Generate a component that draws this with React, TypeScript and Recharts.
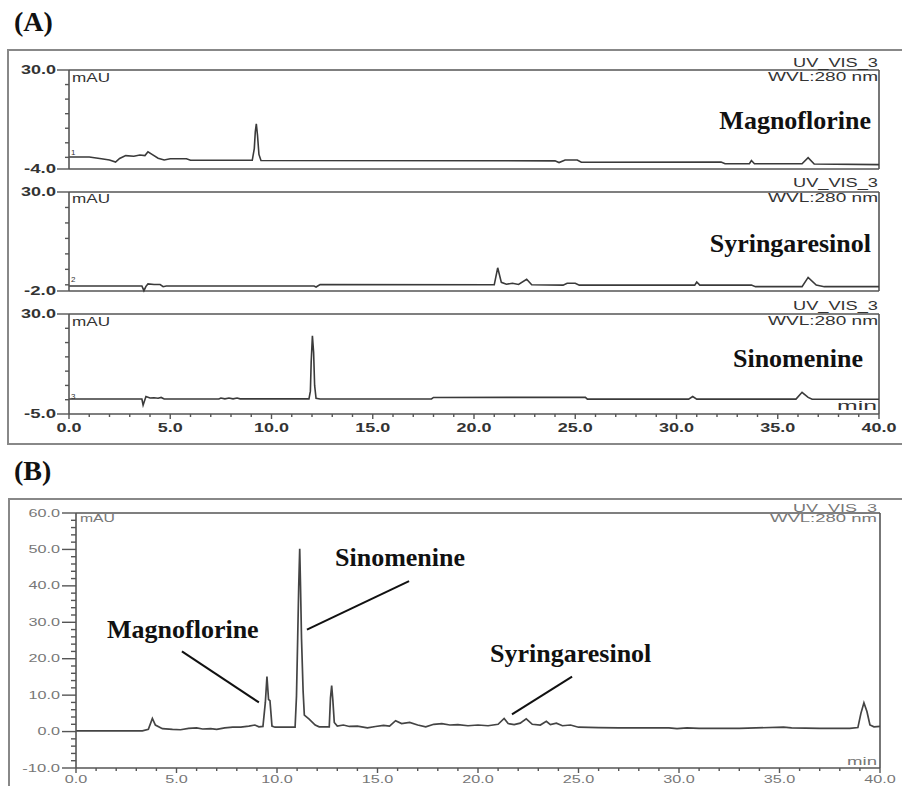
import { LineChart, Line, XAxis, YAxis, ReferenceLine } from 'recharts';

// retention time (min), absorbance (mAU)
const magnoflorineStd: [number, number][] = [
  [0, 0.1], [1.0, 0.1], [1.6, -0.5], [2.0, -0.9], [2.3, -1.6], [2.5, -0.4], [2.8, 0.6],
  [3.2, 0.4], [3.5, 0.8], [3.75, 0.6], [3.9, 1.9], [4.1, 1.0], [4.4, -0.3], [4.7, -0.9],
  [5.0, -0.5], [5.8, -0.5], [6.0, -1.0], [9.05, -1.0], [9.15, 3.0], [9.2, 8.8], [9.25, 11.5],
  [9.31, 7.5], [9.38, 1.0], [9.48, -1.1], [24.0, -1.2], [24.2, -1.8], [24.5, -0.9], [25.1, -0.9],
  [25.3, -1.7], [32.2, -1.6], [32.4, -2.2], [33.6, -2.2], [33.7, -1.1], [33.85, -2.2],
  [36.2, -2.2], [36.5, -0.1], [36.8, -2.3], [40.0, -2.5],
];

const syringaresinolStd: [number, number][] = [
  [0, -0.4], [3.6, -0.4], [3.7, -1.9], [3.8, -0.5], [3.9, 0.3], [4.2, 0.1], [4.5, 0.1],
  [4.65, -0.6], [4.8, -0.4], [12.1, -0.4], [12.2, -0.7], [12.4, 0.1], [21.0, 0.0],
  [21.17, 5.5], [21.35, 0.8], [21.6, 0.2], [21.9, 0.5], [22.2, 0.1], [22.6, 1.8], [22.85, 0.0],
  [24.4, -0.1], [24.6, 0.5], [25.0, 0.5], [25.2, -0.1], [30.9, -0.1], [31.0, 0.9], [31.15, -0.1],
  [33.7, -0.1], [33.9, -0.6], [36.2, -0.6], [36.5, 2.4], [36.9, -0.1], [37.3, -0.6], [40.0, -0.6],
];

const sinomenineStd: [number, number][] = [
  [0, 0.25], [3.6, 0.25], [3.66, -1.9], [3.8, 1.1], [4.0, 0.6], [4.2, 0.7], [4.4, 0.5],
  [4.55, 0.8], [4.7, 0.25], [7.4, 0.25], [7.5, 0.6], [7.7, 0.3], [7.9, 0.6], [8.1, 0.3],
  [8.3, 0.6], [8.45, 0.3], [11.85, 0.3], [11.92, 3.0], [11.96, 13.3], [12.02, 22.4],
  [12.08, 16.5], [12.13, 5.0], [12.2, 0.5], [12.4, 0.25], [17.9, 0.25], [18.0, 0.8],
  [25.5, 0.85], [25.6, 0.2], [30.6, 0.2], [30.8, 1.1], [31.0, 0.2], [35.9, 0.2], [36.2, 2.6],
  [36.5, 0.8], [36.7, 0.15], [40.0, 0.15],
];

const extractSample: [number, number][] = [
  [0, 0.2], [3.3, 0.2], [3.6, 0.6], [3.8, 3.6], [3.95, 1.8], [4.3, 0.8], [4.8, 0.6], [5.2, 0.5],
  [5.6, 0.9], [6.0, 1.0], [6.3, 0.7], [6.7, 0.8], [7.0, 0.6], [7.4, 1.0], [7.8, 1.2], [8.2, 1.2],
  [8.6, 1.5], [8.9, 1.8], [9.1, 1.3], [9.3, 1.4], [9.42, 8.0], [9.5, 15.1], [9.58, 8.8],
  [9.65, 8.5], [9.75, 1.5], [9.9, 1.2], [10.9, 1.2], [10.97, 9.8], [11.03, 25.8], [11.08, 39.7],
  [11.13, 50.2], [11.17, 40.0], [11.22, 25.5], [11.3, 11.0], [11.36, 4.5], [11.6, 3.4],
  [11.9, 1.8], [12.1, 1.3], [12.6, 1.3], [12.66, 9.2], [12.72, 12.6], [12.78, 8.5], [12.85, 2.5],
  [13.0, 1.5], [13.3, 1.8], [13.6, 1.4], [14.0, 1.5], [14.5, 1.0], [14.9, 1.4], [15.3, 1.7],
  [15.6, 1.5], [15.9, 3.0], [16.2, 2.2], [16.6, 2.5], [17.0, 1.8], [17.4, 1.3], [17.8, 2.0],
  [18.2, 2.2], [18.6, 1.8], [19.0, 1.9], [19.5, 1.6], [20.0, 1.8], [20.5, 1.6], [21.0, 2.0],
  [21.3, 3.6], [21.5, 2.2], [21.8, 1.9], [22.1, 2.3], [22.4, 3.5], [22.7, 2.0], [23.1, 1.8],
  [23.4, 2.8], [23.6, 1.9], [23.9, 2.3], [24.2, 1.6], [24.6, 1.8], [25.0, 1.2], [26.0, 1.1],
  [27.0, 1.0], [28.0, 1.0], [29.5, 1.0], [29.9, 0.8], [30.4, 1.0], [31.0, 0.9], [33.0, 0.9],
  [35.2, 1.2], [35.6, 1.0], [37.0, 0.9], [38.5, 0.9], [38.9, 1.1], [39.05, 5.0], [39.2, 7.9],
  [39.35, 5.5], [39.5, 1.8], [39.7, 1.3], [40.0, 1.4],
];

const minuteTicks = [
  0, 1, 2, 3, 4, 5, 6, 7, 8, 9, 10, 11, 12, 13, 14, 15, 16, 17, 18, 19, 20,
  21, 22, 23, 24, 25, 26, 27, 28, 29, 30, 31, 32, 33, 34, 35, 36, 37, 38, 39, 40,
];
const minuteLabels = [0, 5, 10, 15, 20, 25, 30, 35, 40];

const magnoYTicks = [-4, 0, 5, 10, 15, 20, 25, 30];
const syringYTicks = [-2, 0, 5, 10, 15, 20, 25, 30];
const sinoYTicks = [-5, 0, 5, 10, 15, 20, 25, 30];
const extractYTicks = [
  -10, -8, -6, -4, -2, 0, 2, 4, 6, 8, 10, 12, 14, 16, 18, 20, 22, 24, 26, 28, 30,
  32, 34, 36, 38, 40, 42, 44, 46, 48, 50, 52, 54, 56, 58, 60,
];
const extractYLabels = [-10, 0, 10, 20, 30, 40, 50, 60];

// leader lines in panel B (time, mAU)
const leaderLines = [
  [{ x: 5.27, y: 22.0 }, { x: 9.1, y: 8.0 }],
  [{ x: 16.57, y: 41.3 }, { x: 11.49, y: 28.0 }],
  [{ x: 24.68, y: 15.1 }, { x: 21.69, y: 4.7 }],
];

const toRows = (pts: [number, number][]) => pts.map(([t, v]) => ({ t, v }));

const SANS = "'Liberation Sans', Arial, sans-serif";
const SERIF = "'Liberation Serif', 'Times New Roman', serif";

const labelWidth = (s: string, digit: number) => {
  let w = 0;
  for (const c of s) w += c === '.' ? digit * 0.5 : c === '-' ? digit * 0.7 : digit;
  return w;
};

type TickStyle = {
  labelled: number[];
  major: number;
  minor: number;
  gap: number;
  size: number;
  weight: string | number;
  fill: string;
  line: string;
  digit: number;
};

function yTick(st: TickStyle) {
  return (props: any) => {
    const { x, y, payload } = props;
    const val = payload.value as number;
    const big = st.labelled.includes(val);
    const txt = val.toFixed(1);
    return (
      <g>
        <line x1={x - (big ? st.major : st.minor)} y1={y} x2={x} y2={y} stroke={st.line} strokeWidth={1.4} />
        {big && (
          <text
            x={x - st.major - st.gap}
            y={y}
            dy="0.36em"
            textAnchor="end"
            fontFamily={SANS}
            fontSize={st.size}
            fontWeight={st.weight}
            fill={st.fill}
            textLength={labelWidth(txt, st.digit)}
            lengthAdjust="spacingAndGlyphs"
          >
            {txt}
          </text>
        )}
      </g>
    );
  };
}

function xTick(st: TickStyle) {
  return (props: any) => {
    const { x, y, payload } = props;
    const val = payload.value as number;
    const big = st.labelled.includes(val);
    const txt = val.toFixed(1);
    return (
      <g>
        <line x1={x} y1={y} x2={x} y2={y + (big ? st.major : st.minor)} stroke={st.line} strokeWidth={1.4} />
        {big && (
          <text
            x={x}
            y={y + st.gap}
            dy="0.36em"
            textAnchor="middle"
            fontFamily={SANS}
            fontSize={st.size}
            fontWeight={st.weight}
            fill={st.fill}
            textLength={labelWidth(txt, st.digit)}
            lengthAdjust="spacingAndGlyphs"
          >
            {txt}
          </text>
        )}
      </g>
    );
  };
}

const dark = '#3a3a3a';
const frame = '#555';

function StdPanel({
  pts,
  top,
  height,
  yMin,
  yTicks,
  withX,
}: {
  pts: [number, number][];
  top: number;
  height: number;
  yMin: number;
  yTicks: number[];
  withX: boolean;
}) {
  return (
    <div style={{ position: 'absolute', left: 0, top }}>
      <LineChart
        width={902}
        height={height}
        data={toRows(pts)}
        margin={{ top: 15, right: 23, bottom: withX ? 4 : 6, left: 9 }}
      >
        <XAxis
          dataKey="t"
          type="number"
          domain={[0, 40]}
          ticks={minuteTicks}
          interval={0}
          hide={!withX}
          height={22}
          tickSize={0}
          tickMargin={0}
          tickLine={false}
          axisLine={{ stroke: frame, strokeWidth: 1.6 }}
          tick={xTick({
            labelled: minuteLabels,
            major: 5,
            minor: 3,
            gap: 14,
            size: 12,
            weight: 'bold',
            fill: '#333',
            line: frame,
            digit: 10,
          })}
        />
        <YAxis
          type="number"
          domain={[yMin, 30]}
          ticks={yTicks}
          interval={0}
          width={60}
          tickSize={0}
          tickMargin={0}
          tickLine={false}
          axisLine={{ stroke: frame, strokeWidth: 1.6 }}
          tick={yTick({
            labelled: [yMin, 30],
            major: 12,
            minor: 4,
            gap: 1,
            size: 12,
            weight: 'bold',
            fill: '#333',
            line: frame,
            digit: 10,
          })}
        />
        <ReferenceLine y={30} stroke={frame} strokeWidth={1.6} />
        {!withX && <ReferenceLine y={yMin} stroke={frame} strokeWidth={1.6} />}
        <ReferenceLine x={40} stroke={frame} strokeWidth={1.6} />
        <Line
          dataKey="v"
          type="linear"
          stroke={dark}
          strokeWidth={1.6}
          dot={false}
          isAnimationActive={false}
        />
      </LineChart>
    </div>
  );
}

const light = '#777';

function SamplePanel() {
  return (
    <div style={{ position: 'absolute', left: 0, top: 490 }}>
      <LineChart
        width={902}
        height={296}
        data={toRows(extractSample)}
        margin={{ top: 23, right: 22, bottom: 0, left: 10 }}
      >
        <XAxis
          dataKey="t"
          type="number"
          domain={[0, 40]}
          ticks={minuteTicks}
          interval={0}
          height={18}
          tickSize={0}
          tickMargin={0}
          tickLine={false}
          axisLine={{ stroke: frame, strokeWidth: 1.6 }}
          tick={xTick({
            labelled: minuteLabels,
            major: 5,
            minor: 3,
            gap: 11,
            size: 10,
            weight: 'normal',
            fill: light,
            line: frame,
            digit: 9,
          })}
        />
        <YAxis
          type="number"
          domain={[-10, 60]}
          ticks={extractYTicks}
          interval={0}
          width={66}
          tickSize={0}
          tickMargin={0}
          tickLine={false}
          axisLine={{ stroke: frame, strokeWidth: 1.6 }}
          tick={yTick({
            labelled: extractYLabels,
            major: 14,
            minor: 5,
            gap: 2,
            size: 10,
            weight: 'normal',
            fill: light,
            line: frame,
            digit: 9,
          })}
        />
        <ReferenceLine y={60} stroke={frame} strokeWidth={1.6} />
        <ReferenceLine x={40} stroke={frame} strokeWidth={1.6} />
        {leaderLines.map((seg, i) => (
          <ReferenceLine key={i} segment={seg} stroke="#111" strokeWidth={2} />
        ))}
        <Line
          dataKey="v"
          type="linear"
          stroke="#444"
          strokeWidth={1.7}
          dot={false}
          isAnimationActive={false}
        />
      </LineChart>
    </div>
  );
}

function HeaderA({ uvY, wvlY, mauY }: { uvY: number; wvlY: number; mauY: number }) {
  return (
    <g fontFamily={SANS} fontSize={12} fill="#333">
      <text x={878} y={uvY} textAnchor="end" textLength={85} lengthAdjust="spacingAndGlyphs">UV_VIS_3</text>
      <text x={878} y={wvlY} textAnchor="end" textLength={110} lengthAdjust="spacingAndGlyphs">WVL:280 nm</text>
      <text x={72} y={mauY} textLength={38} lengthAdjust="spacingAndGlyphs">mAU</text>
    </g>
  );
}

export default function App() {
  return (
    <div
      style={{
        position: 'relative',
        width: 902,
        height: 786,
        overflow: 'hidden',
        background: '#fff',
      }}
    >
      <style>{'body{margin:0}'}</style>
      <div
        style={{
          position: 'absolute',
          left: 7,
          top: 49,
          width: 910,
          height: 392,
          border: '2px solid #888',
        }}
      />
      <div
        style={{
          position: 'absolute',
          left: 8,
          top: 498,
          width: 910,
          height: 320,
          border: '2px solid #888',
        }}
      />
      <StdPanel pts={magnoflorineStd} top={55} height={120} yMin={-4} yTicks={magnoYTicks} withX={false} />
      <StdPanel pts={syringaresinolStd} top={177} height={120} yMin={-2} yTicks={syringYTicks} withX={false} />
      <StdPanel pts={sinomenineStd} top={299} height={141} yMin={-5} yTicks={sinoYTicks} withX={true} />
      <SamplePanel />
      <svg
        width={902}
        height={786}
        style={{ position: 'absolute', left: 0, top: 0, pointerEvents: 'none' }}
      >
        <g fontFamily={SERIF} fontWeight="bold" fill="#111">
          <text x={14} y={31} fontSize={28}>(A)</text>
          <text x={14} y={480} fontSize={28}>(B)</text>
          <text x={871} y={129} fontSize={26} textAnchor="end">Magnoflorine</text>
          <text x={871} y={252} fontSize={26} textAnchor="end">Syringaresinol</text>
          <text x={863} y={367} fontSize={26} textAnchor="end">Sinomenine</text>
          <text x={107} y={638} fontSize={26}>Magnoflorine</text>
          <text x={335} y={566} fontSize={26}>Sinomenine</text>
          <text x={490} y={662} fontSize={26}>Syringaresinol</text>
        </g>
        <HeaderA uvY={67} wvlY={81} mauY={82} />
        <HeaderA uvY={187} wvlY={202} mauY={203} />
        <HeaderA uvY={310} wvlY={325} mauY={326} />
        <g fontFamily={SANS} fontSize={12} fill="#333">
          <text x={877} y={410} textAnchor="end" textLength={40} lengthAdjust="spacingAndGlyphs">min</text>
        </g>
        <g fontFamily={SANS} fontSize={8} fill="#333">
          <text x={71} y={155}>1</text>
          <text x={71} y={282}>2</text>
          <text x={71} y={399}>3</text>
        </g>
        <g fontFamily={SANS} fontSize={10} fill={light}>
          <text x={877} y={512} textAnchor="end" textLength={84} lengthAdjust="spacingAndGlyphs">UV_VIS_3</text>
          <text x={877} y={522} textAnchor="end" textLength={107} lengthAdjust="spacingAndGlyphs">WVL:280 nm</text>
          <text x={80} y={522} textLength={35} lengthAdjust="spacingAndGlyphs">mAU</text>
          <text x={877} y={765} textAnchor="end" textLength={30} lengthAdjust="spacingAndGlyphs">min</text>
        </g>
      </svg>
    </div>
  );
}
